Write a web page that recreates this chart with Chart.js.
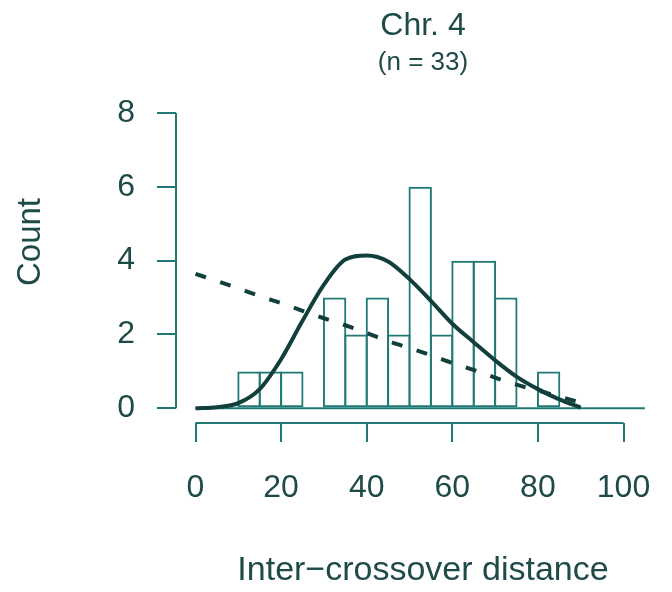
<!DOCTYPE html>
<html>
<head>
<meta charset="utf-8">
<script src="https://cdn.jsdelivr.net/npm/chart.js@4/dist/chart.umd.min.js"></script>
<style>
  body { margin: 0; background: #fff; }
  #wrap { width: 672px; height: 592px; }
</style>
</head>
<body>
<div id="wrap"><canvas id="histChart"></canvas></div>
<script>
"use strict";

// Histogram bins (width 5, from 0 to 105) and counts
var binMids = [2.5, 7.5, 12.5, 17.5, 22.5, 27.5, 32.5, 37.5, 42.5, 47.5, 52.5,
               57.5, 62.5, 67.5, 72.5, 77.5, 82.5, 87.5, 92.5, 97.5, 102.5];
var counts = [0, 0, 1, 1, 1, 0, 3, 2, 3, 2, 6, 2, 4, 4, 3, 0, 1, 0, 0, 0, 0];

// Fitted curves
var curveX = [0, 5, 10, 15, 20, 25, 30, 35, 40, 45, 50, 55, 60, 65, 70, 75, 80, 85, 90];
var solidFit = [0.0, 0.03, 0.14, 0.52, 1.33, 2.37, 3.35, 4.03, 4.14, 3.98, 3.50,
                2.91, 2.29, 1.79, 1.30, 0.86, 0.52, 0.24, 0.02];
var dashedFit = [3.64, 3.45, 3.25, 3.04, 2.85, 2.64, 2.44, 2.25, 2.04, 1.82, 1.63,
                 1.44, 1.23, 1.04, 0.83, 0.64, 0.48, 0.32, 0.15];

// Histogram baseline runs over all breaks
var baseX = [0, 105];
var baseY = [0, 0];

var xTicks = [0, 20, 40, 60, 80, 100];
var yTicks = [0, 2, 4, 6, 8];

// Colours
var lineCol = "#1f7a76";
var textCol = "#1e4a48";
var curveCol = "#11403c";
var fontFam = "'Liberation Sans', Arial, Helvetica, sans-serif";

function pts(xs, ys) {
    return xs.map(function (x, i) { return {x: x, y: ys[i]}; });
}

// Draws R-style axis lines (only over the tick range) and the y label
var rAxes = {
    id: "rAxes",
    afterDraw: function (chart) {
        var ctx = chart.ctx;
        var xs = chart.scales.x, ys = chart.scales.y;
        var area = chart.chartArea;
        ctx.save();
        ctx.strokeStyle = lineCol;
        ctx.lineWidth = 2;
        ctx.beginPath();
        ctx.moveTo(xs.getPixelForValue(xTicks[0]), area.bottom);
        ctx.lineTo(xs.getPixelForValue(xTicks[xTicks.length - 1]), area.bottom);
        ctx.moveTo(area.left, ys.getPixelForValue(yTicks[0]));
        ctx.lineTo(area.left, ys.getPixelForValue(yTicks[yTicks.length - 1]));
        ctx.stroke();

        ctx.translate(31, 242);
        ctx.rotate(-Math.PI / 2);
        ctx.fillStyle = textCol;
        ctx.font = "33px " + fontFam;
        ctx.textAlign = "center";
        ctx.textBaseline = "middle";
        ctx.fillText("Count", 0, 0);
        ctx.restore();
    }
};

function drawHistogram() {
    var ctx = document.getElementById("histChart");
    new Chart(ctx, {
        type: "bar",
        data: {
            datasets: [{
                type: "line",
                label: "fit",
                data: pts(curveX, solidFit),
                borderColor: curveCol,
                borderWidth: 4,
                pointRadius: 0,
                cubicInterpolationMode: "monotone",
                order: 0
            }, {
                type: "line",
                label: "fit2",
                data: pts(curveX, dashedFit),
                borderColor: curveCol,
                borderWidth: 4,
                borderDash: [11, 15],
                pointRadius: 0,
                cubicInterpolationMode: "monotone",
                order: 1
            }, {
                type: "line",
                label: "base",
                data: pts(baseX, baseY),
                borderColor: lineCol,
                borderWidth: 2,
                pointRadius: 0,
                order: 2
            }, {
                label: "Count",
                data: pts(binMids, counts),
                backgroundColor: "rgba(0,0,0,0)",
                borderColor: lineCol,
                borderWidth: 2,
                borderSkipped: false,
                // a touch wider than the bin so neighbouring edges overlap
                barPercentage: 1.093,
                categoryPercentage: 1,
                order: 3
            }]
        },
        options: {
            responsive: true,
            maintainAspectRatio: false,
            animation: false,
            layout: { padding: { left: 0, right: 2, top: 0, bottom: 0 }, autoPadding: false },
            plugins: {
                legend: { display: false },
                tooltip: { enabled: false },
                title: {
                    display: true,
                    text: "Chr. 4",
                    fullSize: false,
                    color: textCol,
                    font: { family: fontFam, size: 32, weight: "normal" },
                    padding: { top: 7, bottom: 0 }
                },
                subtitle: {
                    display: true,
                    text: "(n = 33)",
                    fullSize: false,
                    color: textCol,
                    font: { family: fontFam, size: 26, weight: "normal" },
                    padding: { top: 2, bottom: 21.4 }
                }
            },
            scales: {
                x: {
                    type: "linear",
                    offset: false,
                    min: -4.556,
                    max: 110.86,
                    afterBuildTicks: function (s) {
                        s.ticks = xTicks.map(function (v) { return {value: v}; });
                    },
                    afterFit: function (s) {
                        s.height = 169;
                        s.paddingLeft = 0;
                        s.paddingRight = 0;
                    },
                    grid: { offset: false, drawOnChartArea: false, drawTicks: true, tickLength: 19,
                            color: lineCol, lineWidth: 2 },
                    border: { display: false },
                    ticks: { color: textCol, padding: 27, maxRotation: 0, autoSkip: false,
                             font: { family: fontFam, size: 32 } },
                    title: {
                        display: true,
                        text: "Inter\u2212crossover distance",
                        color: textCol,
                        font: { family: fontFam, size: 34 },
                        padding: { top: 0, bottom: 1 }
                    }
                },
                y: {
                    min: -0.398,
                    max: 8.352,
                    afterBuildTicks: function (s) {
                        s.ticks = yTicks.map(function (v) { return {value: v}; });
                    },
                    afterFit: function (s) {
                        s.width = 176;
                        s.paddingTop = 0;
                        s.paddingBottom = 0;
                    },
                    grid: { drawOnChartArea: false, drawTicks: true, tickLength: 19, color: lineCol, lineWidth: 2 },
                    border: { display: false },
                    ticks: { color: textCol, padding: 22, autoSkip: false,
                             font: { family: fontFam, size: 32 } }
                }
            }
        },
        plugins: [rAxes]
    });
}

window.onload = drawHistogram;
</script>
</body>
</html>
